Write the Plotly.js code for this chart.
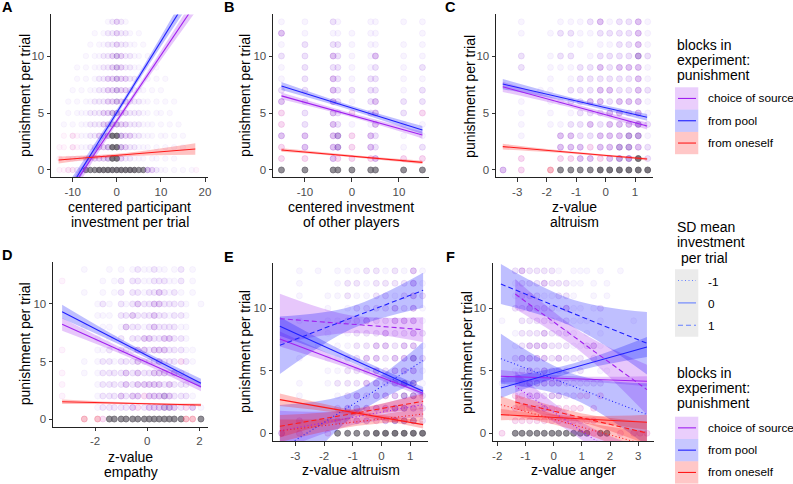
<!DOCTYPE html>
<html>
<head>
<meta charset="utf-8">
<script src="https://cdn.plot.ly/plotly-3.0.1.min.js"></script>
<style>
html,body{margin:0;padding:0;background:#fff;}
#chart{width:793px;height:484px;}
</style>
</head>
<body>
<div id="chart"></div>
<script>
const FONT = '"Liberation Sans", Arial, sans-serif';
const W = 793, H = 484;

// punishment levels of the point grids, top row first
const punishLevels = [13,12,11,10,9,8,7,6,5,4,3,2,1,0];

// x positions of the observation columns per predictor
const xInvest = [-13,-12,-11,-10,-9,-8,-7,-6,-5,-4,-3,-2,-1,0,1,2,3,4,5,6,7,8,9,10,11,12,13,14,15,16,17,18];
const xOthers = [-15,-10,-4,-3,0,4,5,11,15];
const xAltruism = [-3.48,-2.86,-2.21,-1.87,-1.53,-1.18,-0.86,-0.52,-0.18,0.14,0.47,0.79,1.11,1.43];
const xEmpathy = [-3.26,-2.6,-2.41,-1.9,-1.7,-1.45,-1.26,-1.0,-0.81,-0.56,-0.36,-0.11,0.08,0.27,0.46,0.66,0.85,1.04,1.3,1.49,1.74,2.06];
const xAnger = [-1.83,-1.36,-1.12,-0.85,-0.59,-0.33,-0.06,0.18,0.45,0.71,0.95,1.18,1.42,1.66,1.89,2.37,2.84,3.07,3.31];

// observation density per cell ('.' none, a-d purple shades, p/q pink, r red, g/h grey)
const gridA = [
  "...........abcba................",
  "........a.abbcbba.a.............",
  ".......a.aabbcbbaa.a............",
  "......a.aabbcdcbbaa.a...........",
  "....a.a.aabbcdcbbaa.a.a.........",
  "....a.a.abbccdccbba.a.a.a.......",
  "...a.a.aabbccdccbbaa.a.a........",
  "..a.a.aabbbccdccbbbaa.a.a.a.....",
  "..a.aaabbbccddccbbbaa.aa.a......",
  ".a.a.aabbbccddccbbbaaa.a.a.a....",
  ".p.qpaabbccdhhdccbbaaa.aa.a.a...",
  "pp.qpaabbccdhhdcbbaaa.a.a.a.a...",
  "p.paaabbcccdhhcbbaaa.aa.a.a.....",
  "ppqqbbggghhhhhhhhhggdcbaa.a.a.ap"
];
const gridB = [
  "aaba.aaaa","caaaaaa.a","abbbaaaaa","bbcbaacaa","abbbaabab","abcbabbaa","bbcbbbbab",
  "cbcbabcbb","qbcbqbcbq","qbcbaacaa","cccdqcbaa","qccdqcbab","qqcqqqcqq","ggggggggg"
];
const gridC = [
  ".a..aaabcabbca",".a.abbaabbbbca",".....aa.aabbca",".b.abb.abbbbdb",".b.aaabbcbccca",
  "...a.abbbbbbca","..aa.bbbccbbcb",".a.aabbccbccca",".a.a.abbbccbca",".a.aabbcbcccdb",
  ".a..ccbbcccdda","....cccqccddcb",".q..qqccqcddhb","cq.rgggghhhhhh"
];
const gridD = [
  "..a..a.a.abaabaa.ab.a.","p...a.ab.bbaabbbaab.a.","..a.a.ab.bbabbcbaba.a.","...aba.babcbbccbbbba.a",
  "...aaa.bbcbbbcbbabba..","..a.aa.acbbabcbbbbaa..","...a.aab.bbccbbccbba..","p..aab.bbbccbcccbbbaa.",
  "..aabbabbbcbbbcbbbqba.","p.aabbbbcbcbbcccbcba..","p..abbbbcbcccccbcbbb..","p..abbbcbccqcccdcbbba.",
  "...abbbbbcqbcccddcbqca","..rrqggggggggggggggrrg"
];
const gridE = [
  ".aa.aaabbabaca",".a..abbabbbbca",".a.aabaabbabcb","...a.abbbbcbca",".a.aabbcbbccca",
  "...a.abbbcbbcb","..a.aabbccbcca",".a.aabbccbccdb","...aabbbcbccca",".a.abbbccbcdda",
  ".a..abcbcccddb","....bcccccddcb",".q..qqccqcdddb","cq.qgggghhhhhh"
];
const gridF = [
  ".bcbbbba.aaa.a.a...",".abbbcbbbaa.a.a....",".abbbaabba..a.a....",".bbcbbbacaa.ab.....",
  "a.bbbbbabaaa.a..a..",".abbbcbbba.a.a.....",".abcccbbbaabca.....",".bccccbcbbb.b......",
  ".abcbcbbbab..aa....","a.bcccccbbbbbb.....",".qqccbccbbqq.q.....",".qqqqcqqqqq.q......",
  ".qqqqqqqqqqqq......","qgggggggggggqggqqqq"
];

// fitted lines: [block, SD level, x left/mid/right, fitted value, half width of the 95% band]
const fitsA = [
  ['choice','0',[-13.2,2,17.8],[-3.28,5.46,14.55],[0.8,0.25,0.7]],
  ['pool','0',[-13.2,2,17.8],[-3.2,6.29,16.15],[0.8,0.25,0.8]],
  ['oneself','0',[-13.2,2,17.8],[0.88,1.35,1.84],[0.3,0.15,0.5]]
];
const fitsB = [
  ['choice','0',[-15,0,15],[6.5,4.8,3.07],[0.3,0.18,0.3]],
  ['pool','0',[-15,0,15],[7.37,5.43,3.5],[0.35,0.2,0.35]],
  ['oneself','0',[-15,0,15],[1.75,1.22,0.67],[0.15,0.1,0.15]]
];
const fitsC = [
  ['choice','0',[-3.49,-1.04,1.41],[7.3,5.58,3.86],[0.45,0.2,0.3]],
  ['pool','0',[-3.49,-1.04,1.41],[7.54,6.08,4.62],[0.45,0.2,0.3]],
  ['oneself','0',[-3.49,-1.04,1.41],[2.05,1.5,0.96],[0.25,0.1,0.12]]
];
const fitsD = [
  ['choice','0',[-3.26,-0.6,2.06],[8.23,5.52,2.81],[0.55,0.25,0.4]],
  ['pool','0',[-3.26,-0.6,2.06],[9.33,6.2,3.1],[0.6,0.25,0.4]],
  ['oneself','0',[-3.26,-0.6,2.06],[1.5,1.36,1.22],[0.2,0.08,0.12]]
];
const fitsE = [
  ['choice','-1',[-3.54,-1.05,1.45],[0.2,1.25,2.3],[1.6,0.6,1.0]],
  ['choice','1',[-3.54,-1.05,1.45],[9.17,8.73,8.29],[2.0,0.7,1.0]],
  ['choice','0',[-3.54,-1.05,1.45],[7.54,5.37,3.2],[0.6,0.25,0.3]],
  ['pool','-1',[-3.54,-1.05,1.45],[-1.33,2.24,5.81],[3.6,1.0,1.5]],
  ['pool','1',[-3.54,-1.05,1.45],[7.04,9.24,11.44],[2.3,0.9,1.4]],
  ['pool','0',[-3.54,-1.05,1.45],[8.56,5.96,3.36],[0.75,0.3,0.35]],
  ['oneself','-1',[-3.54,-1.05,1.45],[0.2,0.87,1.54],[0.9,0.35,0.5]],
  ['oneself','1',[-3.54,-1.05,1.45],[0.56,1.56,2.56],[0.9,0.35,0.6]],
  ['oneself','0',[-3.54,-1.05,1.45],[2.69,1.69,0.69],[0.5,0.2,0.3]]
];
const fitsF = [
  ['choice','-1',[-1.36,0.975,3.31],[3.76,0.21,-3.34],[1.2,0.7,2.0]],
  ['choice','1',[-1.36,0.975,3.31],[11.14,7.31,3.49],[1.2,0.8,2.0]],
  ['choice','0',[-1.87,0.72,3.31],[4.56,4.36,4.16],[0.5,0.2,0.4]],
  ['pool','-1',[-1.87,0.72,3.31],[5.97,3.73,1.5],[2.0,1.0,2.5]],
  ['pool','1',[-1.87,0.72,3.31],[11.94,9.57,7.2],[1.6,1.1,2.5]],
  ['pool','0',[-1.87,0.72,3.31],[3.62,5.26,6.9],[0.8,0.35,0.8]],
  ['oneself','-1',[-1.87,0.72,3.31],[2.29,0.67,-0.95],[0.7,0.4,1.1]],
  ['oneself','1',[-1.36,0.975,3.31],[2.5,1.26,0.02],[0.6,0.35,0.9]],
  ['oneself','0',[-1.87,0.72,3.31],[1.49,1.19,0.88],[0.45,0.2,0.6]]
];

const blockNames = ['choice of source','from pool','from oneself'];
const sdNames = ['-1','0','1'];

const blockColor = {choice:'#a020f0', pool:'#1f1fff', oneself:'#ff1a1a'};
const bandFill = {choice:'rgba(160,32,240,0.25)', pool:'rgba(0,0,255,0.25)', oneself:'rgba(255,0,0,0.24)'};
const keyFill = ['rgba(160,32,240,0.22)','rgba(0,0,255,0.22)','rgba(255,0,0,0.22)'];
const keyLine = ['#a020f0','#1f1fff','#ff1a1a'];
const sdDash = {'-1':'1px,2.5px', '0':'solid', '1':'5px,3px'};
const shadeRGB = {a:[175,130,240], b:[170,110,230], c:[160,80,215], d:[130,70,190],
                  p:[235,120,215], q:[225,110,200], r:[235,80,110], g:[100,95,105], h:[90,85,95]};
const shadeAlpha = {a:0.09, b:0.2, c:0.34, d:0.48, p:0.1, q:0.26, r:0.4, g:0.7, h:0.8};

// panel frames in pixels [left, top, right, bottom] and their x ranges
const panels = [
  {box:[51,14.4,208,177.4],  xr:[-14.92,20.68], tv:[-10,0,10,20],     xs:xInvest,  grid:gridA, fits:fitsA, size:5.5, fade:0.7},
  {box:[273,14.4,429,177.4], xr:[-16.8,16.4],   tv:[-10,0,10],        xs:xOthers,  grid:gridB, fits:fitsB, size:6, fade:1},
  {box:[496,14.4,653,177.4], xr:[-3.72,1.61],   tv:[-3,-2,-1,0,1],    xs:xAltruism,grid:gridC, fits:fitsC, size:6, fade:1},
  {box:[53,262,208,426.5],   xr:[-3.61,2.33],   tv:[-2,0,2],          xs:xEmpathy, grid:gridD, fits:fitsD, size:6, fade:0.85},
  {box:[273,262.7,428,441.4],xr:[-3.78,1.62],   tv:[-3,-2,-1,0,1],    xs:xAltruism,grid:gridE, fits:fitsE, size:6, fade:0.9},
  {box:[493,262.7,654,441.4],xr:[-2.15,3.56],   tv:[-2,-1,0,1,2,3],   xs:xAnger,   grid:gridF, fits:fitsF, size:6, fade:0.9}
];

const fx = p => p / W;
const fy = p => 1 - p / H;

function pointTrace(xs, grid, xa, ya, size, fade) {
  const x = [], y = [], c = [];
  grid.forEach((row, i) => {
    for (let j = 0; j < row.length && j < xs.length; j++) {
      const rgb = shadeRGB[row[j]];
      if (rgb) {
        const a = Math.min(1, shadeAlpha[row[j]] * (row[j] === 'g' || row[j] === 'h' ? 1 : fade));
        x.push(xs[j]); y.push(punishLevels[i]);
        c.push('rgba(' + rgb.join(',') + ',' + a.toFixed(3) + ')');
      }
    }
  });
  return {type:'scatter', mode:'markers', x, y, xaxis:xa, yaxis:ya, hoverinfo:'skip', showlegend:false,
          cliponaxis:true, marker:{size:size, color:c, line:{color:c, width:1}}};
}

function fitTraces(fits, xa, ya) {
  const bands = [], lines = [];
  fits.forEach(([blk, sd, xs, fit, hw]) => {
    const lo = fit.map((v, i) => v - hw[i]);
    const hi = fit.map((v, i) => v + hw[i]);
    bands.push({type:'scatter', mode:'lines', x:xs, y:lo, xaxis:xa, yaxis:ya, hoverinfo:'skip', showlegend:false,
                line:{width:0, shape:'spline', color:'rgba(0,0,0,0)'}});
    bands.push({type:'scatter', mode:'lines', x:xs, y:hi, xaxis:xa, yaxis:ya, hoverinfo:'skip', showlegend:false,
                fill:'tonexty', fillcolor:bandFill[blk], line:{width:0, shape:'spline', color:'rgba(0,0,0,0)'}});
    lines.push({type:'scatter', mode:'lines', x:xs, y:fit, xaxis:xa, yaxis:ya, hoverinfo:'skip', showlegend:false,
                line:{width:1.1, color:blockColor[blk], dash:sdDash[sd]}});
  });
  return bands.concat(lines);
}

const traces = [];
const layout = {
  width:W, height:H, margin:{l:0,r:0,t:0,b:0},
  paper_bgcolor:'#fff', plot_bgcolor:'rgba(0,0,0,0)',
  font:{family:FONT, color:'#000'}, showlegend:false,
  shapes:[], annotations:[]
};

const axisStyle = {
  showline:true, linecolor:'#222', linewidth:1, ticks:'outside', ticklen:3.5, tickwidth:1, tickcolor:'#333',
  tickfont:{family:FONT, size:11.5, color:'#4d4d4d'}, showgrid:false, zeroline:false, fixedrange:true
};

panels.forEach((p, k) => {
  const n = k === 0 ? '' : String(k + 1);
  const xa = 'x' + n, ya = 'y' + n;
  const [l, t, r, b] = p.box;
  layout['xaxis' + n] = Object.assign({}, axisStyle, {
    domain:[fx(l), fx(r)], range:p.xr, anchor:ya, tickvals:p.tv, ticktext:p.tv.map(String)
  });
  layout['yaxis' + n] = Object.assign({}, axisStyle, {
    domain:[fy(b), fy(t)], range:[-0.65, 13.65], anchor:xa, tickvals:[0,5,10], ticktext:['0','5','10']
  });
  traces.push(pointTrace(p.xs, p.grid, xa, ya, p.size, p.fade));
  fitTraces(p.fits, xa, ya).forEach(tr => traces.push(tr));
});

function addText(text, x, y, opts) {
  layout.annotations.push(Object.assign({
    text:text, x:fx(x), y:fy(y), xref:'paper', yref:'paper', showarrow:false,
    xanchor:'center', yanchor:'middle', font:{family:FONT, size:14, color:'#000'}
  }, opts || {}));
}

// panel letters
[['A',7,7],['B',229,7],['C',450,7],['D',7,255],['E',229,257],['F',450,257]].forEach(([s,x,y]) =>
  addText('<b>' + s + '</b>', x, y, {font:{family:FONT, size:14.5, color:'#000'}}));

// axis titles
const yTitleX = [25, 245, 470, 25, 245, 467];
panels.forEach((p, k) => {
  const [l, t, r, b] = p.box;
  addText('punishment per trial', yTitleX[k], (t + b) / 2, {textangle:-90});
});
addText('centered participant', 129.5, 206.7);
addText('investment per trial', 129.5, 221.7);
addText('centered investment', 351, 207.3);
addText('of other players', 351, 221.7);
addText('z-value', 574, 207.3);
addText('altruism', 574, 221.7);
addText('z-value', 130.5, 456.7);
addText('empathy', 130.5, 471.7);
addText('z-value altruism', 350.5, 470);
addText('z-value anger', 573.5, 470);

// legends
function blockLegend(titleY, keyTop) {
  ['blocks in','experiment:','punishment'].forEach((s, i) =>
    addText(s, 675, titleY + 15 * i, {xanchor:'left'}));
  blockNames.forEach((name, i) => {
    const y0 = keyTop + 22.3 * i, y1 = y0 + 22.3;
    layout.shapes.push({type:'rect', xref:'paper', yref:'paper', x0:fx(675), x1:fx(698.3), y0:fy(y1), y1:fy(y0),
                        fillcolor:keyFill[i], line:{width:0}});
    layout.shapes.push({type:'line', xref:'paper', yref:'paper', x0:fx(678), x1:fx(696), y0:fy((y0+y1)/2), y1:fy((y0+y1)/2),
                        line:{color:keyLine[i], width:1.1}});
    addText(name, 706, (y0 + y1) / 2, {xanchor:'left', font:{family:FONT, size:11.8, color:'#000'}});
  });
}
blockLegend(45, 87.3);
blockLegend(373, 416.7);

['SD mean','investment','\u00a0per trial'].forEach((s, i) =>
  addText(s, 675, 227 + 15.5 * i, {xanchor:'left'}));
layout.shapes.push({type:'rect', xref:'paper', yref:'paper', x0:fx(675), x1:fx(698.3), y0:fy(336.7), y1:fy(269.3),
                    fillcolor:'#ebebeb', line:{width:0}});
sdNames.forEach((name, i) => {
  const yc = 269.3 + 22.4 * i + 11.2;
  layout.shapes.push({type:'line', xref:'paper', yref:'paper', x0:fx(678), x1:fx(696), y0:fy(yc), y1:fy(yc),
                      line:{color:'#6680ff', width:1.1, dash:sdDash[name]}});
  addText(name, 706, yc + 1, {xanchor:'left', font:{family:FONT, size:11.8, color:'#000'}});
});

Plotly.newPlot('chart', traces, layout, {staticPlot:true, displayModeBar:false});
</script>
</body>
</html>
